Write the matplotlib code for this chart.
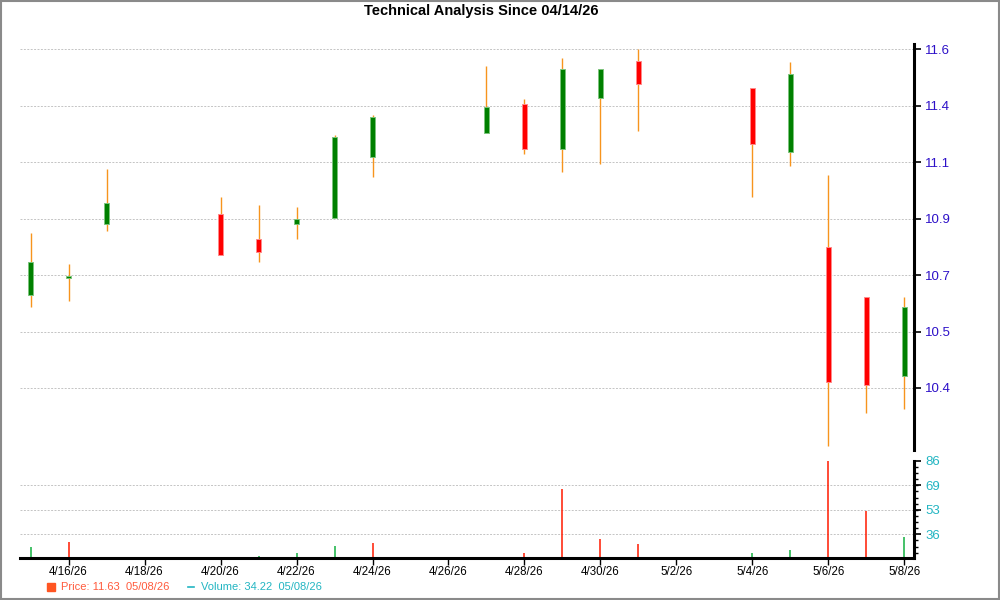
import numpy as np
import matplotlib
matplotlib.use("Agg")
import matplotlib.pyplot as plt
import matplotlib.dates as mdates
from matplotlib.lines import Line2D
from matplotlib.patches import Rectangle
from matplotlib.ticker import FixedLocator, FuncFormatter, NullLocator
import datetime as dt

# ---------------- data ----------------
dates = ['2026-04-15', '2026-04-16', '2026-04-17', '2026-04-20', '2026-04-21', '2026-04-22',
         '2026-04-23', '2026-04-24', '2026-04-27', '2026-04-28', '2026-04-29', '2026-04-30',
         '2026-05-01', '2026-05-04', '2026-05-05', '2026-05-06', '2026-05-07', '2026-05-08']
opens = [10.630, 10.689, 10.882, 10.916, 10.829, 10.882, 10.902, 11.127, 11.255, 11.407, 11.170, 11.428,
         11.558, 11.463, 11.154, 10.800, 10.623, 10.421]
highs = [10.850, 10.739, 11.075, 10.977, 10.949, 10.942, 11.246, 11.353, 11.541, 11.425, 11.568, 11.530,
         11.600, 11.463, 11.554, 11.054, 10.623, 10.623]
lows = [10.586, 10.607, 10.856, 10.771, 10.745, 10.827, 10.902, 11.049, 11.255, 11.146, 11.064, 11.095,
        11.264, 10.977, 11.088, 10.297, 10.356, 10.362]
closes = [10.745, 10.698, 10.956, 10.771, 10.782, 10.900, 11.234, 11.339, 11.395, 11.170, 11.530, 11.530,
          11.478, 11.196, 11.512, 10.411, 10.405, 10.588]
volumes = [27.4, 30.8, 19.5, 19.5, 21.3, 23.3, 28.1, 30.1, 19.5, 23.3, 66.8, 32.8,
           29.4, 23.3, 25.5, 86.0, 51.8, 34.2]
volume_up = [True, False, True, False, True, True, True, False, True, False, False, False,
             False, True, True, False, False, True]

price_ticks = [10.4, 10.5, 10.7, 10.9, 11.1, 11.4, 11.6]
price_tick_labels = ['10.4', '10.5', '10.7', '10.9', '11.1', '11.4', '11.6']
price_range = (10.290, 11.618)

vol_ticks = [36.0, 52.67, 69.33, 86.0]
vol_tick_labels = ['36', '53', '69', '86']
vol_range = (19.9, 86.0)

title = 'Technical Analysis Since 04/14/26'
legend_price = 'Price: 11.63  05/08/26'
legend_volume = 'Volume: 34.22  05/08/26'

# ---------------- styling ----------------
GREEN_BODY = '#008000'
GREEN_EDGE = '#7CC47C'
RED_BODY = '#FF0000'
RED_EDGE = '#FF8A8A'
WICK = '#F7941D'
VOL_RED = '#FF1A00'
VOL_GREEN = '#12B040'
GRID = '#C4C4C4'
PRICE_LBL = '#2D10C8'
VOL_LBL = '#22B5C2'
FONT = 'Liberation Sans'
GRID_LS = (0, (2, 1.5))

plt.rcParams['font.family'] = [FONT, 'DejaVu Sans']

x = mdates.date2num([dt.datetime.strptime(d, '%Y-%m-%d') for d in dates])

# piecewise-linear price scale: labelled ticks equally spaced
tv = np.array(price_ticks, float)
tp = np.arange(len(tv), dtype=float)


def fwd(v):
    v = np.asarray(v, float)
    out = np.interp(v, tv, tp)
    lo = tp[0] + (v - tv[0]) / (tv[1] - tv[0])
    hi = tp[-1] + (v - tv[-1]) / (tv[-1] - tv[-2])
    out = np.where(v < tv[0], lo, out)
    out = np.where(v > tv[-1], hi, out)
    return out


def inv(p):
    p = np.asarray(p, float)
    out = np.interp(p, tp, tv)
    lo = tv[0] + (p - tp[0]) * (tv[1] - tv[0])
    hi = tv[-1] + (p - tp[-1]) * (tv[-1] - tv[-2])
    out = np.where(p < tp[0], lo, out)
    out = np.where(p > tp[-1], hi, out)
    return out


fig = plt.figure(figsize=(10, 6), dpi=100)
W, H = 1000.0, 600.0
left_px, right_px = 20.3, 914.3
axp = fig.add_axes([left_px / W, 1 - 450 / H, (right_px - left_px) / W, (450 - 44.3) / H])
axv = fig.add_axes([left_px / W, 1 - 558 / H, (right_px - left_px) / W, (558 - 460.7) / H])

xlim = (x[0] - 0.27, x[-1] + 0.26)

# ---- price panel ----
axp.set_yscale('function', functions=(fwd, inv))
axp.set_ylim(*price_range)
axp.set_xlim(*xlim)
for yv in price_ticks:
    axp.axhline(yv, color=GRID, lw=0.7, ls=GRID_LS, zorder=0)

axp.vlines(x, lows, highs, color=WICK, lw=1.0, zorder=2)
bw = 0.115
for xi, o, c in zip(x, opens, closes):
    up = c >= o
    lo_, hi_ = min(o, c), max(o, c)
    if hi_ - lo_ < 0.004:
        lo_, hi_ = lo_ - 0.002, hi_ + 0.002
    axp.bar(xi, hi_ - lo_, bottom=lo_, width=bw,
            color=GREEN_BODY if up else RED_BODY,
            edgecolor=GREEN_EDGE if up else RED_EDGE, linewidth=0.7, zorder=3)

axp.yaxis.tick_right()
axp.yaxis.set_major_locator(FixedLocator(price_ticks))
axp.yaxis.set_major_formatter(FuncFormatter(lambda v, pos: price_tick_labels[pos] if pos is not None and pos < len(price_tick_labels) else ''))
axp.yaxis.set_minor_locator(NullLocator())
axp.tick_params(axis='y', which='major', direction='out', length=5, width=1.2,
                labelsize=9.5, pad=3, colors='black')
axp.tick_params(axis='y', labelcolor=PRICE_LBL)
axp.tick_params(axis='x', which='both', bottom=False, labelbottom=False)
for s in ['left', 'top', 'bottom']:
    axp.spines[s].set_visible(False)
axp.spines['right'].set_linewidth(2.2)
axp.spines['right'].set_color('black')

# ---- volume panel ----
axv.set_xlim(*xlim)
axv.set_ylim(*vol_range)
for yv in vol_ticks[:-1]:
    axv.axhline(yv, color=GRID, lw=0.7, ls=GRID_LS, zorder=0)
vcols = [VOL_GREEN if u else VOL_RED for u in volume_up]
axv.vlines(x, vol_range[0], volumes, colors=vcols, lw=1.1, zorder=2)

axv.yaxis.tick_right()
axv.yaxis.set_major_locator(FixedLocator(vol_ticks))
axv.yaxis.set_major_formatter(FuncFormatter(lambda v, pos: vol_tick_labels[pos] if pos is not None and pos < len(vol_tick_labels) else ''))
step = (vol_ticks[-1] - vol_ticks[0]) / 12.0
minor = [vol_ticks[-1] - i * step for i in range(0, 20) if vol_ticks[-1] - i * step >= vol_range[0]]
axv.yaxis.set_minor_locator(FixedLocator(minor))
axv.tick_params(axis='y', which='major', direction='out', length=5, width=1.2,
                labelsize=9.5, pad=3, colors='black')
axv.tick_params(axis='y', labelcolor=VOL_LBL)
axv.tick_params(axis='y', which='minor', direction='out', length=3, width=1.0, colors='black')

xt = mdates.date2num([dt.datetime(2026, 4, 16) + dt.timedelta(days=2 * i) for i in range(12)])
axv.xaxis.set_major_locator(FixedLocator(xt))


def fmt_date(v, pos):
    d = mdates.num2date(v)
    return f"{d.month}/{d.day}/{d.strftime('%y')}"


axv.xaxis.set_major_formatter(FuncFormatter(fmt_date))
axv.tick_params(axis='x', which='major', direction='out', length=5, width=1.0,
                labelsize=8.3, pad=1, colors='black')
axv.tick_params(axis='x', labelcolor='black')
for s in ['left', 'top']:
    axv.spines[s].set_visible(False)
axv.spines['right'].set_linewidth(2.2)
axv.spines['bottom'].set_linewidth(2.2)

# ---- title, legend, frame ----
fig.text(0.481, 1 - 10.5 / H, title, ha='center', va='center', fontsize=10.5,
         fontweight='bold', color='black')

fig.add_artist(Line2D([50.5 / W], [1 - 586.5 / H], marker='s', ms=5.5, color='#FF5522',
                      transform=fig.transFigure, lw=0))
fig.text(61 / W, 1 - 587.5 / H, legend_price, ha='left', va='center', fontsize=8, color='#FF5A3C')
fig.add_artist(Line2D([188 / W, 194 / W], [1 - 586.5 / H] * 2, color=VOL_LBL, lw=1.2,
                      transform=fig.transFigure))
fig.text(201 / W, 1 - 587.5 / H, legend_volume, ha='left', va='center', fontsize=8, color=VOL_LBL)

fig.add_artist(Rectangle((0.0005, 0.001), 0.998, 0.997, transform=fig.transFigure,
                         fill=False, edgecolor='#8A8A8A', lw=1.5))

fig.savefig('out.png', dpi=100)
